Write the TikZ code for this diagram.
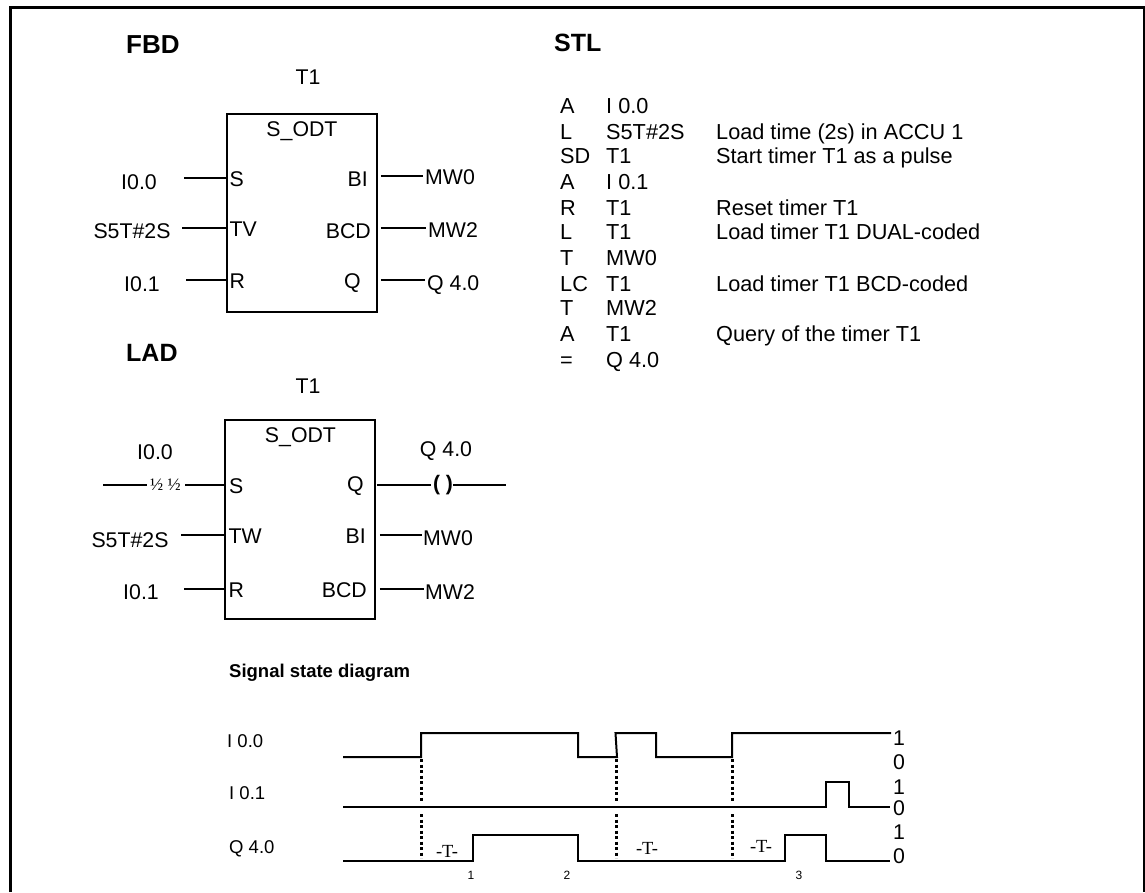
\documentclass[tikz,border=0pt]{standalone}
\usepackage{fontspec}
\setmainfont{Liberation Sans}
\newfontfamily\timesfont{Liberation Serif}
\usetikzlibrary{positioning,calc}

\begin{document}
\begin{tikzpicture}[x=1pt, y=-1pt, line join=miter,
  txt/.style={inner sep=0pt, font=\fontsize{21.3}{25}\selectfont},
  head/.style={inner sep=0pt, anchor=base west, font=\fontsize{25}{30}\selectfont\bfseries},
  stl/.style={inner sep=0pt, anchor=base west, font=\fontsize{21.7}{25}\selectfont},
  small/.style={inner sep=0pt, anchor=base west, font=\fontsize{18.5}{22}\selectfont},
  tmark/.style={inner sep=0pt, font=\fontsize{18.5}{22}\selectfont\timesfont},
  num/.style={inner sep=0pt, font=\fontsize{12}{14}\selectfont},
  fblock/.style={draw, line width=1.5pt, minimum width=150pt, inner sep=0pt},
  wire/.style={line width=1.7pt},
  trace/.style={line width=2pt},
  dots/.style={line width=3pt, dash pattern=on 3pt off 2.5pt}]
  \useasboundingbox (0,0) rectangle (1145,892);
  \coordinate (fa) at (10.5,892);
  \coordinate (fb) at (1144.5,892);
  \coordinate (ft) at (10.5,7.5);
  \draw[line width=3pt] (fa) -- (ft) -| (fb);

  % FBD
  \node[head, font=\fontsize{26}{30}\selectfont\bfseries] (hfbd) at (126,53) {FBD};
  \node[txt] (tfbd) at (308,77) {T1};
  \node[fblock, minimum height=198pt] (fbd) at (302,213) {};
  \node[txt] (ofbd) at (302,131) {S\_ODT};
  \foreach \n/\l/\p/\lx/\ly/\py/\wx in {a/I0.0/S/139/182/178/184,b/S5T\#2S/TV/132/231/228/182,c/I0.1/R/142/284/280/186}{
    \node[txt] (l\n) at (\lx,\ly) {\l};
    \node[txt, anchor=west] (p\n) at (229.5,\py+1) {\p};
    \coordinate (w\n) at (\wx,\py);
    \draw[wire] (w\n) -- (fbd.west |- w\n);
  }
  \foreach \n/\l/\p/\px/\ly/\py/\lx in {d/MW0/BI/368/177/176/425,e/MW2/BCD/371/230/228/428,f/Q 4.0/Q/361/285/280/427}{
    \node[txt, anchor=west] (l\n) at (\lx,\ly) {\l};
    \node[txt, anchor=east] (p\n) at (\px,\py+3) {\p};
    \draw[wire] ([xshift=3pt]fbd.east |- 0,\py) -- ([xshift=-2pt]l\n.west |- 0,\py);
  }

  % LAD
  \node[head] (hlad) at (126,361) {LAD};
  \node[txt] (tlad) at (308,386) {T1};
  \node[fblock, minimum height=199pt] (lad) at (300,519.5) {};
  \node[txt] (olad) at (300.5,437) {S\_ODT};
  \node[txt] (qlad) at (446,451) {Q 4.0};
  \node[txt] (ilad) at (155,452) {I0.0};
  \node[inner sep=0pt, font=\fontsize{17.5}{20}\selectfont\timesfont] (nc) at (165.5,485) {½ ½};
  \node[txt, anchor=west] (ps) at (229,486) {S};
  \node[txt, anchor=east] (pq) at (364,486) {Q};
  \node[txt, font=\fontsize{21}{25}\selectfont\bfseries] (coil) at (443,485) {( )};
  \coordinate (wl) at (103,485);
  \coordinate (wr) at (506,485);
  \draw[wire] (wl) -- ([xshift=-3pt]nc.west);
  \draw[wire] ([xshift=4pt]nc.east) -- (lad.west |- nc);
  \draw[wire] ([xshift=1pt]lad.east |- coil) -- ([xshift=-2pt]coil.west);
  \draw[wire] (coil.east) -- (wr);
  \foreach \n/\l/\p/\lx/\ly/\py/\wx in {g/S5T\#2S/TW/130/540/535/181,h/I0.1/R/141/592/589/184}{
    \node[txt] (l\n) at (\lx,\ly) {\l};
    \node[txt, anchor=west] (p\n) at (228.5,\py+1) {\p};
    \coordinate (w\n) at (\wx,\py);
    \draw[wire] (w\n) -- (lad.west |- w\n);
  }
  \foreach \n/\l/\p/\px/\ly/\py/\lx in {i/MW0/BI/366/538/535/423,j/MW2/BCD/367/592/589/425}{
    \node[txt, anchor=west] (l\n) at (\lx,\ly) {\l};
    \node[txt, anchor=east] (p\n) at (\px,\py+1) {\p};
    \draw[wire] ([xshift=4pt]lad.east |- 0,\py) -- ([xshift=-1pt]l\n.west |- 0,\py);
  }

  % STL
  \node[head] (hstl) at (554,51) {STL};
  \foreach \k/\y/\a/\b/\c in {1/113/A/I 0.0/,2/139/L/S5T\#2S/Load time (2s) in ACCU 1,3/163/SD/T1/Start timer T1 as a pulse,
    4/189/A/I 0.1/,5/215/R/T1/Reset timer T1,6/239/L/T1/Load timer T1 DUAL-coded,7/265/T/MW0/,
    8/291/LC/T1/Load timer T1 BCD-coded,9/315/T/MW2/,10/341/A/T1/Query of the timer T1,11/367/=/Q 4.0/}{
    \node[stl] (op\k) at (560,\y) {\a};
    \node[stl] (arg\k) at (606,\y) {\b};
    \node[stl] (cm\k) at (716,\y) {\c};
  }

  % signal state diagram
  \node[small, font=\fontsize{18.5}{22}\selectfont\bfseries] (hsig) at (229,677) {Signal state diagram};
  \node[small] (si0) at (227,747) {I 0.0};
  \node[small] (si1) at (229,799) {I 0.1};
  \node[small] (sq) at (229,853) {Q 4.0};
  \draw[trace] (343,757) -- (421,757) -- (421,733) -- (578,733) -- (578,757) -- (617,757) -- (615.5,733) -- (656,733) -- (656,757) -- (732,757) -- (732,733) -- (891,733);
  \draw[trace] (343,807) -- (826,807) -- (826,782) -- (849,782) -- (849,807) -- (890,807);
  \draw[trace] (343,861) -- (473,861) -- (473,835) -- (578,835) -- (578,861) -- (785,861) -- (785,835) -- (826,835) -- (826,861) -- (890,861);
  \foreach \x in {421,616,732}{
    \draw[dots] (\x,759) -- (\x,801);
    \draw[dots] (\x,814) -- (\x,858);
  }
  \foreach \x/\y in {447/851,647/848,761/846}{\node[tmark] at (\x,\y) {-T-};}
  \foreach \x/\t in {471/1,567/2,799/3}{\node[num] at (\x,875) {\t};}
  \foreach \y/\t in {738/1,762/0,787/1,808/0,832/1,856/0}{\node[txt] at (899,\y) {\t};}
\end{tikzpicture}
\end{document}
